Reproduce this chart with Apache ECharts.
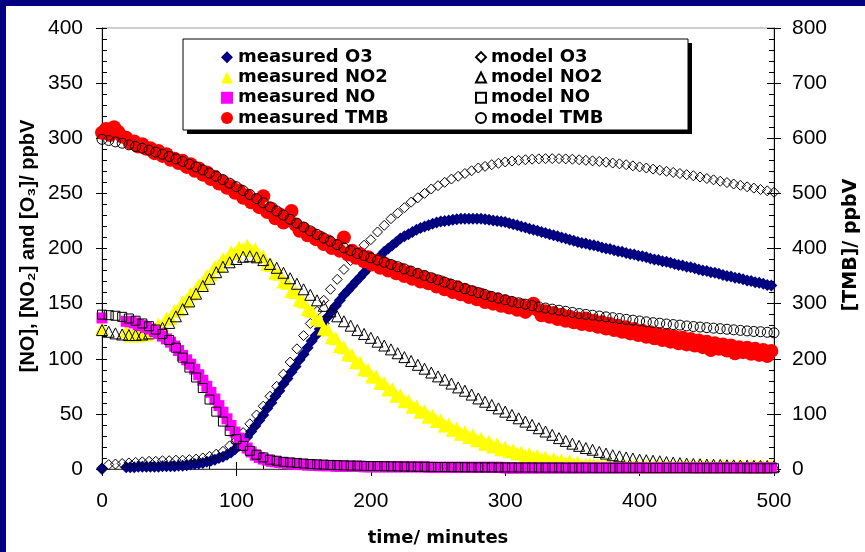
<!DOCTYPE html>
<html>
<head>
<meta charset="utf-8">
<script src="https://cdn.jsdelivr.net/npm/echarts@6.0.0/dist/echarts.min.js"></script>
<style>
html,body{margin:0;padding:0;background:#fff;}
#chart{width:865px;height:552px;}
</style>
</head>
<body>
<div id="chart"></div>
<script>
// ---- DATA ----
const measTime = [
0,3,6,9,12,15,18,21,24,27,30,33,36,39,42,45,48,51,54,57,
60,63,66,69,72,75,78,81,84,87,90,93,96,99,102,105,108,111,114,117,
120,123,126,129,132,135,138,141,144,147,150,153,156,159,162,165,168,171,174,177,
180,183,186,189,192,195,198,201,204,207,210,213,216,219,222,225,228,231,234,237,
240,243,246,249,252,255,258,261,264,267,270,273,276,279,282,285,288,291,294,297,
300,303,306,309,312,315,318,321,324,327,330,333,336,339,342,345,348,351,354,357,
360,363,366,369,372,375,378,381,384,387,390,393,396,399,402,405,408,411,414,417,
420,423,426,429,432,435,438,441,444,447,450,453,456,459,462,465,468,471,474,477,
480,483,486,489,492,495,498];

const measO3 = [
0,null,null,null,null,null,1.5,1.5,1.5,2,2,2,2,2,2,2.5,2.5,2.5,2.5,3,
3,3.5,4,4.5,5,5.5,6.5,7.5,8.5,10,11,13,15,18,21,25,29,34,39,44,
49,55,60,66,71,77,82,88,93,99,104,110,116,121,127,132,138,143,148,153,
158,162,166,170,174,178,182,186,189,193,197,200,203,206,209,211,213,215,217,218.5,
220,221,222.5,223.5,224.5,225,225.5,226,226.5,227,227,227,227,227,227,226.5,226,225.5,225,224.5,
224,223,222,221,220,219,218,217,216,215,214,213,212,211,210,209,208,207,206,205,
204.5,203.5,203,202,201,200,199.5,198.5,197.5,197,196,195,194.5,193.5,193,192,191,190,189.5,188.5,
188,187,186,185,184.5,183.5,183,182,181,180,179.5,178.5,178,177,176,175,174.5,173.5,173,172,
171,170.5,169.5,169,168,167,166.5];

const measNO2 = [
128,null,null,null,null,null,125,121,124.5,121,125,122,127,126,131,130.5,136.5,137,143.5,145,
151.5,153,159,161,167,169,175,177,183.5,184.5,190.5,190.5,196.5,196,201,199.5,202.5,198.5,199.5,193.5,
193,186,185,178,177,170,169,161.5,160.5,153.5,152,145,143.5,136.5,135,127.5,126.5,119.5,118.5,111.5,
110.5,104,103.5,97,96.5,90.5,90,84,84,78,78,72,72.5,66.5,67,61.5,62,56.5,57,52,
52.5,47.5,48.5,43.5,44.5,39.5,40.5,35.5,37,32,33.5,29,30.5,26,27.5,23,25,20.5,22.5,18,
19.5,16,17,14,15,12,13.5,10.5,12,9,10.5,7.5,9,6.5,8,5.5,7,4.5,6,3.5,
4,4,3.5,3.5,3,3.5,2.5,3,2.5,3,2.5,2.5,3,2,2.5,3,2.5,2,2.5,3,
2.5,2,2.5,3,2,2.5,2.5,2,3,2.5,2,2.5,2.5,2,3,2.5,2,2.5,3,2.5,
2,2.5,3,2.5,2,2.5,3];

const measNO = [
137,null,null,null,null,null,134,133.5,132.5,131,130,128.5,127,125,123,120.5,118,115,111.5,107.5,
103,99,95,90.5,85.5,80.5,75,69.5,63.5,57.5,51.5,45.5,39.5,33.5,28,23,19,15.5,12.5,10.5,
9,8,7,6.5,6,5.5,5,4.5,4.5,4,4,3.5,3.5,3.5,3,3,3,3,2.5,2.5,
2.5,2.5,2.5,2.5,2.5,2,2,2,2,2,2,2,2,2,2,2,2,2,2,2,
2,1.5,1.5,1.5,1.5,1.5,1.5,1.5,1.5,1.5,1.5,1.5,1.5,1.5,1.5,1.5,1.5,1.5,1.5,1.5,
1,1,1,1,1,1,1,1,1,1,1,1,1,1,1,1,1,1,1,1,
1,1,1,1,1,1,1,1,1,1,1,1,1,1,1,1,1,1,1,1,
1,1,1,1,1,1,1,1,1,1,1,1,1,1,1,1,1,1,1,1,
1,1,1,1,1,1,1];

const measTMB = [
610,617,606,620,612,603,601,592,594,585,589,581,582,573,577,568,571,561,563,555,
559,548,553,541,545,534,538,526,530,518,521,510,513,501,505,492,496,484,487,475,
495,466,472,455,462,447,453,468,443,432,436,424,427,417,420,408,413,401,405,396,
420,389,396,383,390,377,384,371,378,365,373,360,367,355,362,350,357,345,352,340,
348,337,343,331,339,326,334,321,330,317,325,312,320,308,316,303,311,300,308,296,
304,293,300,289,297,285,293,300,289,279,286,276,283,272,280,269,276,266,273,263,
273,261,269,258,266,255,263,252,260,249,257,246,254,243,251,240,248,237,245,234,
243,231,240,228,238,226,236,224,233,221,231,216,228,218,226,215,224,210,221,212,
220,209,218,207,216,205,214];

const modelTime = [
0,5,10,15,20,25,30,35,40,45,50,55,60,65,70,75,80,85,90,95,
100,105,110,115,120,125,130,135,140,145,150,155,160,165,170,175,180,185,190,195,
200,205,210,215,220,225,230,235,240,245,250,255,260,265,270,275,280,285,290,295,
300,305,310,315,320,325,330,335,340,345,350,355,360,365,370,375,380,385,390,395,
400,405,410,415,420,425,430,435,440,445,450,455,460,465,470,475,480,485,490,495,500];

const modelO3 = [
1,4,4.5,5,5.5,6,6.5,7,7,7.5,
7.5,8,8,8.5,9,10,11.5,13.5,16,21,
26,33,41,49,57,66,75,86,97,109,
121,132,143,153,163,172,181,189,196,203,
208,215,221,227,232,237,242,246,250,254,
257,260,263,265.5,268,270.5,273,274.5,276,277.3,
278.5,279.3,280,280.5,281,281.3,281.5,281.5,281.5,281.3,
281,280.5,280,279.5,279,278.3,277.5,276.8,276,275,
274,273,272,271,270,269,268,267,266,264.8,
263.5,262.3,261,259.8,258.5,257.3,256,254.8,253.5,252.3,
251];

const modelNO2 = [
126,124.5,123,122,121.5,121.5,122,123,125,128,
132.5,138.5,145,152,159,166,172.5,178.5,183.5,187.5,
190.5,192.5,193,192,189.5,186,182.5,178,173,168,
163,158,153,148,143,138.5,134,130,126,122.5,
119,115.5,112,108.5,105,101.5,98,94.5,91,87.5,
84,81,77.5,74,71,67.5,64,61,58,55,
52,49,46,43,40,37,34,31,28,25.5,
23,21,19,17.5,15.5,14,12.5,11.5,10.5,9.5,
8.5,8,7.5,7,6.3,5.8,5.3,4.9,4.6,4.3,
4,3.8,3.6,3.4,3.3,3.1,3,2.9,2.8,2.7,
2.6];

const modelNO = [
140,139.5,139,138,136.5,134.5,132,129.5,126.5,122.5,
117,110,101,92,83,73.5,63,52,43,34.5,
27,21,16.5,13,10.5,8.5,7.5,6.5,6,5.5,
5,4.5,4.2,4,3.7,3.5,3.3,3.1,3,2.8,
2.7,2.6,2.5,2.4,2.3,2.2,2.1,2,2,1.9,
1.8,1.8,1.7,1.7,1.6,1.6,1.5,1.5,1.5,1.4,
1.4,1.4,1.3,1.3,1.3,1.2,1.2,1.2,1.2,1.1,
1.1,1.1,1.1,1,1,1,1,1,1,1,
1,0.9,0.9,0.9,0.9,0.9,0.9,0.9,0.8,0.8,
0.8,0.8,0.8,0.8,0.8,0.8,0.7,0.7,0.7,0.7,
0.7];

const modelTMB = [
598,596,593.5,591,588,585,582,578.5,575,571,
567,562.5,558,553,548,542.5,537,531,525,518.5,
512,505,498,490.5,483,475.5,468,460.5,453,446,
439,432,425.5,419,413,407,401,396,391,387,
383,379,375,371,367,363,359,355,351,347,
343,339,335,331,327,323.5,320,316.5,313,310,
307,304,301.5,299,296.5,294,292,290,288,286,
284,282,280.5,279,277.5,276,274.5,273,271.5,270,
268.5,267,265.5,264.5,263,262,261,259.5,258.5,257.5,
256.5,255.5,254.5,253.5,252.5,251.5,250.5,249.5,249,248,
247];

const xTicks = {min: 0, max: 500, interval: 100};
const yLeftTicks = {min: 0, max: 400, interval: 50};
const yRightTicks = {min: 0, max: 800, interval: 100};

// ---- CHART ----
function pts(ts, vs) {
  const out = [];
  for (let i = 0; i < ts.length; i++) if (vs[i] !== null) out.push([ts[i], vs[i]]);
  return out;
}
const hollow = {color: 'rgba(0,0,0,0)', borderColor: '#000', borderWidth: 1, opacity: 1};
const labelFont = {fontFamily: 'Liberation Sans', fontSize: 21, color: '#000'};

const chart = echarts.init(document.getElementById('chart'), null, {renderer: 'canvas'});
chart.setOption({
  animation: false,
  backgroundColor: '#fff',
  grid: {left: 102, right: 91, top: 28, bottom: 83, show: true, borderColor: '#a0a0a0', borderWidth: 1, backgroundColor: 'rgba(0,0,0,0)'},
  xAxis: [
    {type: 'value', position: 'bottom', min: xTicks.min, max: xTicks.max, interval: xTicks.interval,
     axisLine: {onZero: false, lineStyle: {color: '#404040', width: 1}},
     axisTick: {show: true, inside: false, length: 7, lineStyle: {color: '#000'}},
     axisLabel: Object.assign({margin: 22}, labelFont), splitLine: {show: false}},
    {type: 'value', position: 'bottom', min: xTicks.min, max: xTicks.max, interval: xTicks.interval,
     axisLine: {show: false, onZero: false},
     axisTick: {show: true, inside: true, length: 7, lineStyle: {color: '#000'}},
     minorTick: {show: true, splitNumber: 5, length: 4, lineStyle: {color: '#000'}},
     axisLabel: {show: false}, splitLine: {show: false}}
  ],
  yAxis: [
    {type: 'value', position: 'left', min: yLeftTicks.min, max: yLeftTicks.max, interval: yLeftTicks.interval,
     axisLine: {show: true, onZero: false, lineStyle: {color: '#000', width: 1}},
     axisTick: {show: true, inside: false, length: 6, lineStyle: {color: '#000'}},
     axisLabel: Object.assign({margin: 19}, labelFont), splitLine: {show: false}},
    {type: 'value', position: 'right', min: yRightTicks.min, max: yRightTicks.max, interval: yRightTicks.interval,
     axisLine: {show: true, onZero: false, lineStyle: {color: '#000', width: 1}},
     axisTick: {show: true, inside: false, length: 7, lineStyle: {color: '#000'}},
     axisLabel: Object.assign({margin: 18}, labelFont), splitLine: {show: false}},
    {type: 'value', position: 'left', min: yLeftTicks.min, max: yLeftTicks.max, interval: yLeftTicks.interval,
     axisLine: {show: false, onZero: false},
     axisTick: {show: true, inside: true, length: 5, lineStyle: {color: '#000'}},
     minorTick: {show: true, splitNumber: 5, length: 5, lineStyle: {color: '#000'}},
     axisLabel: {show: false}, splitLine: {show: false}},
    {type: 'value', position: 'right', min: yRightTicks.min, max: yRightTicks.max, interval: yRightTicks.interval,
     axisLine: {show: false, onZero: false},
     axisTick: {show: true, inside: true, length: 7, lineStyle: {color: '#000'}},
     minorTick: {show: true, splitNumber: 5, length: 5, lineStyle: {color: '#000'}},
     axisLabel: {show: false}, splitLine: {show: false}}
  ],
  legend: [
    {data: [{name: 'measured O3', icon: 'diamond'}, {name: 'measured NO2', icon: 'triangle'},
            {name: 'measured NO', icon: 'rect'}, {name: 'measured TMB', icon: 'circle'}],
     orient: 'vertical', left: 221, top: 47, padding: 0, itemGap: 0, itemWidth: 12, itemHeight: 12,
     selectedMode: false, z: 5,
     textStyle: {fontFamily: 'DejaVu Sans', fontWeight: 'bold', fontSize: 18, color: '#000', lineHeight: 20.3}},
    {data: [{name: 'model O3', icon: 'diamond'}, {name: 'model NO2', icon: 'triangle'},
            {name: 'model NO', icon: 'rect'}, {name: 'model TMB', icon: 'circle'}],
     orient: 'vertical', left: 475, top: 47, padding: 0, itemGap: 0, itemWidth: 10, itemHeight: 10,
     selectedMode: false, z: 5,
     textStyle: {fontFamily: 'DejaVu Sans', fontWeight: 'bold', fontSize: 18, color: '#000', lineHeight: 20.3}}
  ],
  graphic: [
    {type: 'rect', shape: {x: 0, y: 0, width: 6, height: 552}, style: {fill: '#000080'}, z: 10},
    {type: 'rect', shape: {x: 0, y: 0, width: 865, height: 6}, style: {fill: '#000080'}, z: 10},
    {type: 'rect', shape: {x: 187, y: 43, width: 505, height: 91}, style: {fill: '#000'}, z: 3},
    {type: 'rect', shape: {x: 183, y: 39, width: 505, height: 91}, style: {fill: '#fff', stroke: '#000', lineWidth: 1}, z: 3},
    {type: 'text', x: 28, y: 246, rotation: Math.PI / 2, z: 5,
     style: {text: '[NO], [NO\u2082] and [O\u2083]/ ppbV', font: 'bold 20px "Liberation Sans"', fill: '#000',
             align: 'center', verticalAlign: 'middle', textAlign: 'center', textVerticalAlign: 'middle'}},
    {type: 'text', x: 851, y: 245, rotation: Math.PI / 2, z: 5,
     style: {text: '[TMB]/ ppbV', font: 'bold 19px "DejaVu Sans"', fill: '#000',
             align: 'center', verticalAlign: 'middle', textAlign: 'center', textVerticalAlign: 'middle'}},
    {type: 'text', x: 438, y: 538, z: 5,
     style: {text: 'time/ minutes', font: 'bold 18px "DejaVu Sans"', fill: '#000',
             align: 'center', verticalAlign: 'middle', textAlign: 'center', textVerticalAlign: 'middle'}}
  ],
  series: [
    {name: 'measured O3', type: 'scatter', xAxisIndex: 0, yAxisIndex: 0, symbol: 'diamond', symbolSize: 12,
     itemStyle: {color: '#000080', opacity: 1}, data: pts(measTime, measO3)},
    {name: 'model O3', type: 'scatter', xAxisIndex: 0, yAxisIndex: 0, symbol: 'diamond', symbolSize: 10,
     itemStyle: hollow, data: pts(modelTime, modelO3)},
    {name: 'measured NO2', type: 'scatter', xAxisIndex: 0, yAxisIndex: 0, symbol: 'triangle', symbolSize: 14,
     itemStyle: {color: '#ffff00', opacity: 1}, data: pts(measTime, measNO2)},
    {name: 'model NO2', type: 'scatter', xAxisIndex: 0, yAxisIndex: 0, symbol: 'triangle', symbolSize: 11,
     itemStyle: hollow, data: pts(modelTime, modelNO2)},
    {name: 'measured NO', type: 'scatter', xAxisIndex: 0, yAxisIndex: 0, symbol: 'rect', symbolSize: 11,
     itemStyle: {color: '#ff00ff', opacity: 1}, data: pts(measTime, measNO)},
    {name: 'model NO', type: 'scatter', xAxisIndex: 0, yAxisIndex: 0, symbol: 'rect', symbolSize: 9,
     itemStyle: hollow, data: pts(modelTime, modelNO)},
    {name: 'measured TMB', type: 'scatter', xAxisIndex: 0, yAxisIndex: 1, symbol: 'circle', symbolSize: 14,
     itemStyle: {color: '#ff0000', opacity: 1}, data: pts(measTime, measTMB)},
    {name: 'model TMB', type: 'scatter', xAxisIndex: 0, yAxisIndex: 1, symbol: 'circle', symbolSize: 10,
     itemStyle: hollow, data: pts(modelTime, modelTMB)}
  ]
});
</script>
</body>
</html>
